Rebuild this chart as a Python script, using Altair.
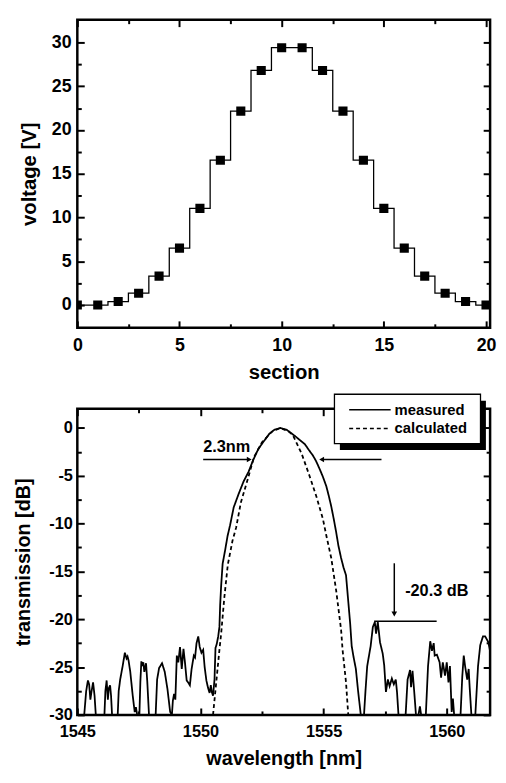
import altair as alt
import pandas as pd

FONT = "Liberation Sans"

# ---------------- top panel data ----------------
section = list(range(22))
voltage = [0, 0, 0.4, 1.35, 3.3, 6.5, 11.05, 16.55, 22.15, 26.8, 29.4,
           29.4, 26.8, 22.15, 16.55, 11.05, 6.5, 3.3, 1.35, 0.4, 0, 0]
top_x_major = [0, 5, 10, 15, 20]
top_x_minor = [2.5, 7.5, 12.5, 17.5]
top_y_major = [0, 5, 10, 15, 20, 25, 30]
top_y_minor = [2.5, 7.5, 12.5, 17.5, 22.5, 27.5]

# ---------------- bottom panel data ----------------
meas_wl = [1545.00, 1545.28, 1545.36, 1545.43, 1545.48, 1545.53, 1545.58, 1545.64, 1545.70, 1545.75,
           1546.10, 1546.14, 1546.19, 1546.24, 1546.28, 1546.33, 1546.37, 1546.41,
           1546.64, 1546.68, 1546.74, 1546.84, 1546.93, 1547.00, 1547.04, 1547.08, 1547.15, 1547.25,
           1547.33, 1547.38, 1547.43, 1547.52, 1547.56, 1547.60, 1547.64, 1547.68, 1547.72, 1547.79,
           1547.84, 1547.91, 1548.18, 1548.24, 1548.32, 1548.44, 1548.55, 1548.66, 1548.77, 1548.84,
           1548.88, 1548.93, 1548.98, 1549.04, 1549.10, 1549.17, 1549.24, 1549.31, 1549.37, 1549.44,
           1549.50, 1549.57, 1549.64, 1549.73, 1549.78, 1549.84, 1549.91, 1549.97, 1550.04, 1550.11,
           1550.17, 1550.24, 1550.31, 1550.37, 1550.42, 1550.46, 1550.51, 1550.57, 1550.61, 1550.66,
           1550.72, 1550.77, 1550.80, 1550.84, 1550.90, 1551.00, 1551.10, 1551.20, 1551.35, 1551.55,
           1551.75, 1551.95, 1552.15, 1552.35, 1552.57, 1552.80, 1553.00, 1553.24, 1553.50, 1553.84,
           1554.05, 1554.24, 1554.40, 1554.57, 1554.70, 1554.84, 1554.97, 1555.11, 1555.21, 1555.31,
           1555.41, 1555.51, 1555.60, 1555.71, 1555.81, 1555.91, 1556.00, 1556.08, 1556.14, 1556.22,
           1556.31, 1556.40, 1556.51, 1556.64, 1556.70, 1556.77, 1556.91, 1557.00, 1557.08, 1557.13,
           1557.20, 1557.29, 1557.40, 1557.46, 1557.53, 1557.61, 1557.68, 1557.77, 1557.85, 1557.93,
           1557.98, 1558.04, 1558.33, 1558.41, 1558.51, 1558.55, 1558.61, 1558.68, 1558.75, 1558.85,
           1558.91, 1558.96, 1559.15, 1559.24, 1559.33, 1559.40, 1559.47, 1559.51, 1559.60, 1559.71,
           1559.77, 1559.84, 1559.93, 1560.00, 1560.07, 1560.13, 1560.20, 1560.25, 1560.30, 1560.56,
           1560.63, 1560.69, 1560.75, 1560.83, 1560.89, 1560.93, 1561.00, 1561.16, 1561.27, 1561.36,
           1561.47, 1561.56, 1561.69, 1561.83, 1561.92, 1562.00]
meas_db = [-30, -30, -27.5, -26.4, -26.8, -28.4, -27.5, -26.6, -28.0, -30,
           -30, -27.5, -26.4, -28.4, -27.2, -26.9, -28.0, -30,
           -30, -27.5, -26.3, -24.9, -23.5, -24.1, -23.9, -24.3, -25.5, -28.0,
           -29.7, -29.2, -30, -30, -26.5, -24.4, -24.9, -24.5, -25.5, -24.6,
           -26.5, -30, -30, -26.3, -25.1, -24.6, -25.5, -27.3, -29.7, -30,
           -28.5, -27.8, -28.4, -23.8, -24.5, -22.9, -25.2, -23.1, -24.5, -26.4,
           -26.6, -26.9, -25.2, -23.8, -24.0, -22.5, -21.8, -22.9, -23.5, -23.2,
           -25.0, -26.4, -27.2, -27.7, -26.9, -27.6, -28.0, -26.3, -23.0, -22.6,
           -21.8, -20.8, -18.5, -16.5, -14.2, -12.8, -11.3, -10.2, -8.3, -6.9,
           -5.6, -4.6, -3.3, -2.2, -1.4, -0.6, -0.2, 0.0, -0.2, -0.85,
           -1.3, -1.7, -2.3, -2.9, -3.5, -4.3, -5.1, -6.1, -7.1, -8.2,
           -9.5, -10.9, -12.3, -13.6, -14.6, -15.4, -18.1, -20.5, -22.8, -24.0,
           -25.2, -27.5, -30, -30, -27.5, -24.9, -22.8, -20.8, -20.3, -21.5,
           -20.3, -22.4, -23.6, -24.8, -27.6, -26.3, -27.0, -26.2, -26.8, -26.3,
           -27.6, -30, -30, -26.3, -25.3, -27.1, -25.4, -27.6, -30, -30,
           -29.1, -30, -30, -24.9, -22.3, -23.3, -22.5, -23.8, -23.7, -24.5,
           -26.1, -24.5, -25.9, -24.5, -26.6, -24.9, -29.7, -28.3, -30, -30,
           -26.0, -23.8, -25.0, -26.3, -25.2, -27.1, -30, -30, -24.9, -22.7,
           -21.8, -21.8, -22.4, -24.3, -25.9, -26.5]
calc_wl = [1550.51, 1550.64, 1550.77, 1550.84, 1550.97, 1551.11, 1551.30, 1551.45, 1551.64, 1551.91,
           1552.17, 1552.50, 1552.90, 1553.25, 1553.60, 1553.77, 1554.11, 1554.44, 1554.71, 1554.97,
           1555.11, 1555.31, 1555.51, 1555.71, 1555.77, 1555.91, 1556.00]
calc_db = [-30, -26.6, -23.2, -21.5, -17.7, -14.3, -11.8, -10.4, -7.8, -5.45,
           -3.07, -1.5, -0.4, 0.0, -0.4, -0.85, -2.7, -5.1, -7.2, -9.5,
           -11.25, -13.6, -17.0, -21.1, -23.2, -26.6, -30]
bot_x_major = [1545, 1550, 1555, 1560]
bot_x_minor = [1547.5, 1552.5, 1557.5]
bot_y_major = [-30, -25, -20, -15, -10, -5, 0]
bot_y_minor = [-27.5, -22.5, -17.5, -12.5, -7.5, -2.5]
series_names = ["measured", "calculated"]

# annotations (data coordinates)
arrow_x = [1550.11, 1557.35, 1557.05, 1557.87]
arrow_x2 = [1551.98, 1554.92, 1559.59, 1557.87]
arrow_y = [-3.3, -3.3, -20.2, -14.15]
arrow_y2 = [-3.3, -3.3, -20.2, -19.4]
head_x = [1551.98, 1554.92, 1557.87]
head_y = [-3.3, -3.3, -19.45]
head_shape = ["triangle-right", "triangle-left", "triangle-down"]
note_x = [1550.11, 1558.31]
note_y = [-2.0, -17.05]
note_text = ["2.3nm", "-20.3 dB"]
legend_box = dict(x=[1555.44], x2=[1561.37], y=[3.52], y2=[-1.64])
legend_shadow = dict(x=[1555.66], x2=[1561.59], y=[2.85], y2=[-2.31])


# ---------------- helpers ----------------
def tick_axis(orient, offset, values, size):
    return alt.Axis(orient=orient, offset=offset, values=values, tickSize=size,
                    tickWidth=2, tickColor="black", labels=False, domain=False,
                    grid=False, title=None)


def tick_layers(df, xf, yf, sx, sy, xmaj, xmin, ymaj, ymin, w, h):
    specs = [
        ("top", -h, xmaj, 7, "right", -w, ymaj, 7),
        ("top", -h, xmin, 4, "right", -w, ymin, 4),
        ("bottom", -h, xmaj, 7, "left", -w, ymaj, 7),
        ("bottom", -h, xmin, 4, "left", -w, ymin, 4),
    ]
    out = []
    for xo, xoff, xv, xs, yo, yoff, yv, ys in specs:
        out.append(
            alt.Chart(df).mark_point(opacity=0, clip=True).encode(
                x=alt.X(xf, scale=sx, axis=tick_axis(xo, xoff, xv, xs)),
                y=alt.Y(yf, scale=sy, axis=tick_axis(yo, yoff, yv, ys)),
            )
        )
    return out


def label_axis(values, title, lsize, lpad, tsize, tpad):
    return alt.Axis(values=values, ticks=False, domain=False, grid=False,
                    labelFont=FONT, labelFontSize=lsize, labelFontWeight="bold",
                    labelColor="black", labelPadding=lpad, labelFlush=False,
                    labelExpr="'' + datum.value",
                    title=title, titleFont=FONT, titleFontSize=tsize,
                    titleFontWeight="bold", titleColor="black", titlePadding=tpad)


# ---------------- top panel ----------------
W1, H1 = 418, 312
df_top = pd.DataFrame({"section": section, "voltage": voltage})
sx1 = alt.Scale(domain=[0, 20.2], nice=False, zero=False)
sy1 = alt.Scale(domain=[-2.6, 32.6], nice=False, zero=False)

step = alt.Chart(df_top).mark_line(interpolate="step", color="black",
                                   strokeWidth=1.3, clip=True).encode(
    x=alt.X("section:Q", scale=sx1,
            axis=label_axis(top_x_major, "section", 18, 9, 20.5, 8.6)),
    y=alt.Y("voltage:Q", scale=sy1,
            axis=label_axis(top_y_major, "voltage [V]", 18, 6.3, 20.5, 11.7)),
)
pts = alt.Chart(df_top).mark_square(size=85, color="black", opacity=1,
                                    clip=True).encode(
    x=alt.X("section:Q", scale=sx1, axis=None),
    y=alt.Y("voltage:Q", scale=sy1, axis=None),
)
top = alt.layer(
    step, pts,
    *tick_layers(df_top.iloc[1:3], "section:Q", "voltage:Q", sx1, sy1,
                 top_x_major, top_x_minor, top_y_major, top_y_minor, W1, H1)
).resolve_axis(x="independent", y="independent").properties(width=W1, height=H1)

# ---------------- bottom panel ----------------
W2, H2 = 418, 310
df_lines = pd.concat([
    pd.DataFrame({"wl": meas_wl, "db": meas_db, "series": "measured"}),
    pd.DataFrame({"wl": calc_wl, "db": calc_db, "series": "calculated"}),
])
sx2 = alt.Scale(domain=[1545, 1561.76], nice=False, zero=False)
sy2 = alt.Scale(domain=[-30, 2], nice=False, zero=False)

lines = alt.Chart(df_lines).mark_line(color="black", strokeWidth=1.8,
                                      clip=True).encode(
    x=alt.X("wl:Q", scale=sx2,
            axis=label_axis(bot_x_major, "wavelength [nm]", 16.5, 9, 20, 9)),
    y=alt.Y("db:Q", scale=sy2,
            axis=label_axis(bot_y_major, "transmission [dB]", 16.5, 5, 20, 16)),
    strokeDash=alt.StrokeDash(
        "series:N",
        scale=alt.Scale(domain=series_names, range=[[1, 0], [4, 3]]),
        legend=alt.Legend(orient="none", legendX=274.3, legendY=-8.5, title=None,
                          symbolType="stroke", symbolSize=1764,
                          symbolStrokeWidth=1.5, symbolStrokeColor="black",
                          labelFont=FONT, labelFontSize=15, labelFontWeight="bold",
                          labelColor="black", clipHeight=19, rowPadding=0,
                          labelOffset=3, padding=0),
    ),
    detail="series:N",
)

df_arrows = pd.DataFrame({"x": arrow_x, "x2": arrow_x2, "y": arrow_y, "y2": arrow_y2})
arrows = alt.Chart(df_arrows).mark_rule(color="black", strokeWidth=1.5).encode(
    x=alt.X("x:Q", scale=sx2, axis=None), x2="x2:Q",
    y=alt.Y("y:Q", scale=sy2, axis=None), y2="y2:Q",
)
df_heads = pd.DataFrame({"x": head_x, "y": head_y, "shape": head_shape})
heads = alt.Chart(df_heads).mark_point(filled=True, color="black", size=32,
                                       opacity=1).encode(
    x=alt.X("x:Q", scale=sx2, axis=None),
    y=alt.Y("y:Q", scale=sy2, axis=None),
    shape=alt.Shape("shape:N", scale=None),
)
df_notes = pd.DataFrame({"x": note_x, "y": note_y, "t": note_text})
notes = alt.Chart(df_notes).mark_text(align="left", baseline="middle", font=FONT,
                                      fontSize=16.5, fontWeight="bold",
                                      color="black").encode(
    x=alt.X("x:Q", scale=sx2, axis=None),
    y=alt.Y("y:Q", scale=sy2, axis=None),
    text="t:N",
)
shadow = alt.Chart(pd.DataFrame(legend_shadow)).mark_rect(color="black").encode(
    x=alt.X("x:Q", scale=sx2, axis=None), x2="x2:Q",
    y=alt.Y("y:Q", scale=sy2, axis=None), y2="y2:Q",
)
box = alt.Chart(pd.DataFrame(legend_box)).mark_rect(fill="white", stroke="black",
                                                     strokeWidth=1.3).encode(
    x=alt.X("x:Q", scale=sx2, axis=None), x2="x2:Q",
    y=alt.Y("y:Q", scale=sy2, axis=None), y2="y2:Q",
)

bottom = alt.layer(
    lines, arrows, heads, notes, shadow, box,
    *tick_layers(df_lines.iloc[1:3], "wl:Q", "db:Q", sx2, sy2,
                 bot_x_major, bot_x_minor, bot_y_major, bot_y_minor, W2, H2)
).resolve_axis(x="independent", y="independent").properties(width=W2, height=H2)

chart = alt.vconcat(top, bottom, spacing=7).resolve_legend(
    strokeDash="independent"
).properties(
    padding={"left": 3.2, "top": 4, "right": 0, "bottom": 0}
).configure_view(stroke="black", strokeWidth=2.5)

chart.save("out.html", embed_options={"renderer": "svg", "actions": False})
